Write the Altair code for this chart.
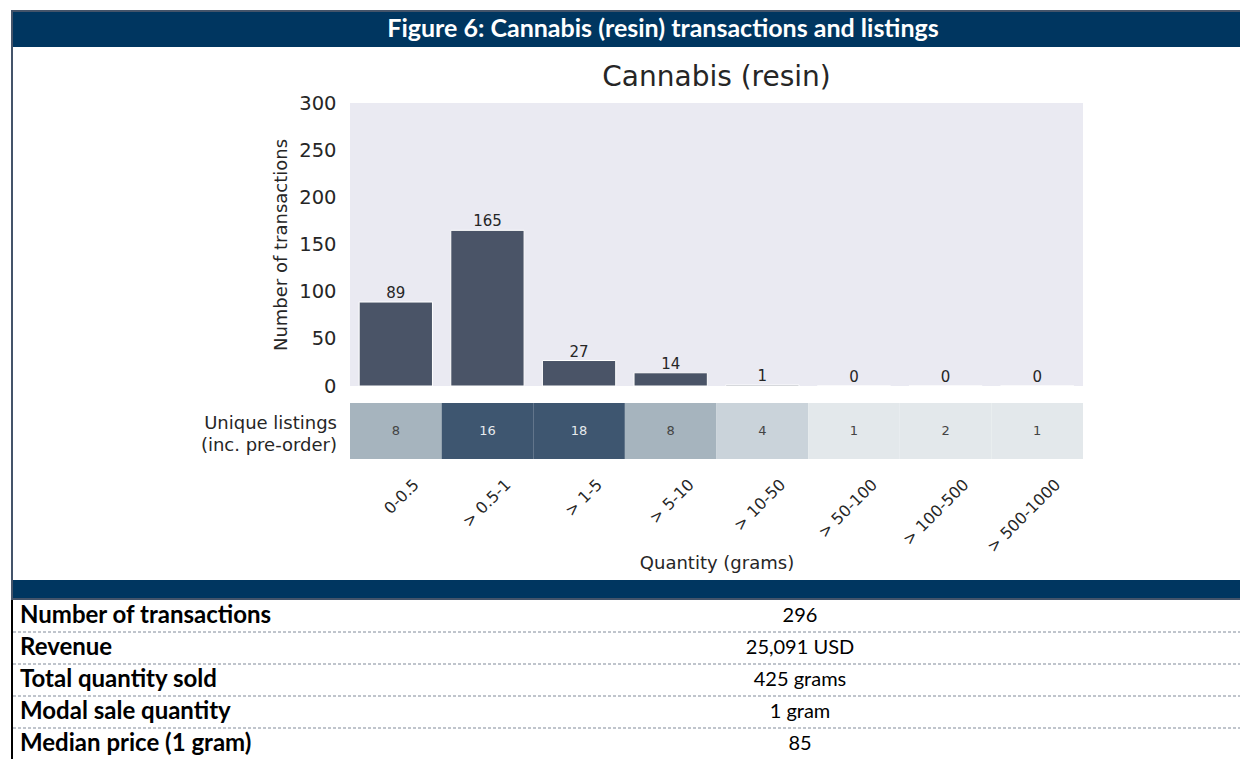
import altair as alt
import pandas as pd

# ---------------- data ----------------
categories = ["0-0.5", "> 0.5-1", "> 1-5", "> 5-10", "> 10-50", "> 50-100", "> 100-500", "> 500-1000"]
transactions = [89, 165, 27, 14, 1, 0, 0, 0]
listings = [8, 16, 18, 8, 4, 1, 2, 1]
row_name = "listings"
row_label = "Unique listings\n(inc. pre-order)"

table_labels = ["Number of transactions", "Revenue", "Total quantity sold",
                "Modal sale quantity", "Median price (1 gram)"]
table_values = ["296", "25,091 USD", "425 grams", "1 gram", "85"]

figure_title = "Figure 6: Cannabis (resin) transactions and listings"
chart_title = "Cannabis (resin)"
y_title = "Number of transactions"
x_title = "Quantity (grams)"
y_ticks = [0, 50, 100, 150, 200, 250, 300]

# ---------------- layout (plot-area pixels) ----------------
W, H = 733, 356
BAR_BOTTOM = 283
HEAT_TOP, HEAT_BOTTOM = 300, 356
BAND_TOP, BAND_BOTTOM = 477, 495
TABLE_TOP, TABLE_BOTTOM = 497, 657
LEFT, RIGHT = -339, 890

NAVY = "#003660"
BORDER = "#44546A"
FONT = "DejaVu Sans"
TFONT = "Lato"

bars_df = pd.DataFrame({"Quantity": categories, "Transactions": transactions})
heat_df = pd.DataFrame({"Quantity": categories, "Listings": listings, "Row": [row_name] * len(categories)})
label_df = pd.DataFrame({"Row": [row_name], "Text": [row_label]})
table_df = pd.DataFrame({"Label": table_labels, "Value": table_values,
                         "Idx": list(range(len(table_labels)))})
one = pd.DataFrame({"k": [0]})

# ---------------- decoration ----------------
def box(x, x2, y, y2, color):
    return alt.Chart(one).mark_rect(color=color).encode(
        x=alt.value(x), x2=alt.value(x2), y=alt.value(y), y2=alt.value(y2))

decor = alt.layer(
    box(LEFT, RIGHT, -93, -91, BORDER),
    box(LEFT + 2, RIGHT, -91, -56, NAVY),
    box(LEFT, LEFT + 2, -93, BAND_BOTTOM + 2, BORDER),
    box(LEFT, LEFT + 2, BAND_BOTTOM + 2, 680, "#000000"),
    box(LEFT + 2, RIGHT, BAND_TOP, BAND_BOTTOM, NAVY),
    box(LEFT + 2, RIGHT, BAND_BOTTOM, BAND_BOTTOM + 2, BORDER),
    box(0, W, 0, BAR_BOTTOM, "#EAEAF2"),
    alt.Chart(one).mark_text(font=TFONT, fontWeight="bold", fontSize=25, color="white",
                             align="center", baseline="middle").encode(
        x=alt.value(313), y=alt.value(-74), text=alt.value(figure_title)),
    alt.Chart(one).mark_text(font=FONT, fontSize=28, color="#262626",
                             align="center", baseline="alphabetic").encode(
        x=alt.value(W / 2), y=alt.value(-17), text=alt.value(chart_title)),
)

# ---------------- bar chart ----------------
bx = alt.X("Quantity:N", sort=categories,
           scale=alt.Scale(domain=categories, paddingInner=0.2, paddingOuter=0.1),
           axis=None)
by = alt.Y("Transactions:Q",
           scale=alt.Scale(domain=[0, 300], range=[BAR_BOTTOM, 0], nice=False),
           axis=alt.Axis(values=y_ticks, title=y_title, grid=False, domain=False,
                         ticks=False, tickSize=0, labelFont=FONT, labelFontSize=19.5,
                         labelColor="#262626", labelPadding=14, titleFont=FONT,
                         titleFontSize=18, titleFontWeight="normal",
                         titleColor="#262626", titlePadding=8))

bars = alt.Chart(bars_df).mark_bar(color="#4A5467", stroke="white", strokeWidth=1).encode(
    x=bx, y=by)
bar_text = alt.Chart(bars_df).mark_text(font=FONT, fontSize=15, color="#262626",
                                        baseline="alphabetic", dy=-4).encode(
    x=bx, y=by, text="Transactions:Q")
bar_group = alt.layer(bars, bar_text)

# ---------------- listings heat row ----------------
hx = alt.X("Quantity:N", sort=categories,
           scale=alt.Scale(domain=categories, paddingInner=0, paddingOuter=0),
           axis=alt.Axis(title=x_title, labelAngle=315, labelAlign="right",
                         labelBaseline="top", labelFont=FONT, labelFontSize=16,
                         labelColor="#262626", labelPadding=17, labelOffset=15,
                         domain=False, ticks=False, tickSize=0, titleFont=FONT,
                         titleFontSize=18, titleFontWeight="normal",
                         titleColor="#262626", titleY=104, titleBaseline="middle"))
hy = alt.Y("Row:N", scale=alt.Scale(domain=[row_name], range=[HEAT_TOP, HEAT_BOTTOM],
                                    paddingInner=0, paddingOuter=0), axis=None)

heat = alt.Chart(heat_df).mark_rect().encode(
    x=hx, y=hy,
    color=alt.Color("Listings:Q",
                    scale=alt.Scale(type="threshold", domain=[3, 6, 12],
                                    range=["#E3E8EB", "#CAD3DA", "#A6B4BE", "#3E5670"]),
                    legend=None))
heat_text = alt.Chart(heat_df).mark_text(font=FONT, fontSize=13, baseline="middle").encode(
    x=hx, y=hy, text="Listings:Q",
    color=alt.condition("datum.Listings >= 12", alt.value("#E6EAEE"), alt.value("#444444")))
heat_label = alt.Chart(label_df).mark_text(font=FONT, fontSize=18, color="#262626",
                                           align="right", baseline="middle",
                                           lineBreak="\n", lineHeight=22, dy=-7).encode(
    x=alt.value(-13), y=hy, text="Text:N")
heat_group = alt.layer(heat, heat_text, heat_label)

# ---------------- summary table ----------------
tscale = alt.Scale(domain=table_labels, range=[TABLE_TOP, TABLE_BOTTOM],
                   paddingInner=0, paddingOuter=0)
ty = alt.Y("Label:N", sort=table_labels, scale=tscale, axis=None)
ty_end = alt.Y("Label:N", sort=table_labels, bandPosition=1, scale=tscale, axis=None)
rules = alt.Chart(table_df).transform_filter("datum.Idx < 4").mark_rule(
    color="#808A99", strokeWidth=1, strokeDash=[3, 2]).encode(
    y=ty_end, x=alt.value(LEFT + 2), x2=alt.value(RIGHT))
labels = alt.Chart(table_df).mark_text(font=TFONT, fontWeight="bold", fontSize=24,
                                       color="black", align="left", baseline="middle").encode(
    x=alt.value(-330), y=ty, text="Label:N")
values = alt.Chart(table_df).mark_text(font=TFONT, fontSize=20, color="black",
                                       align="center", baseline="middle").encode(
    x=alt.value(450), y=ty, text="Value:N")
table_group = alt.layer(rules, labels, values)

chart = alt.layer(decor, bar_group, heat_group, table_group).resolve_scale(
    x="independent", y="independent", color="independent"
).properties(
    width=W, height=H,
    autosize=alt.AutoSizeParams(type="none"),
    padding={"left": 342, "top": 95, "right": 157, "bottom": 300},
    background="white",
).configure_view(stroke=None)

chart.save("out.html", embed_options={"renderer": "svg", "actions": False})
